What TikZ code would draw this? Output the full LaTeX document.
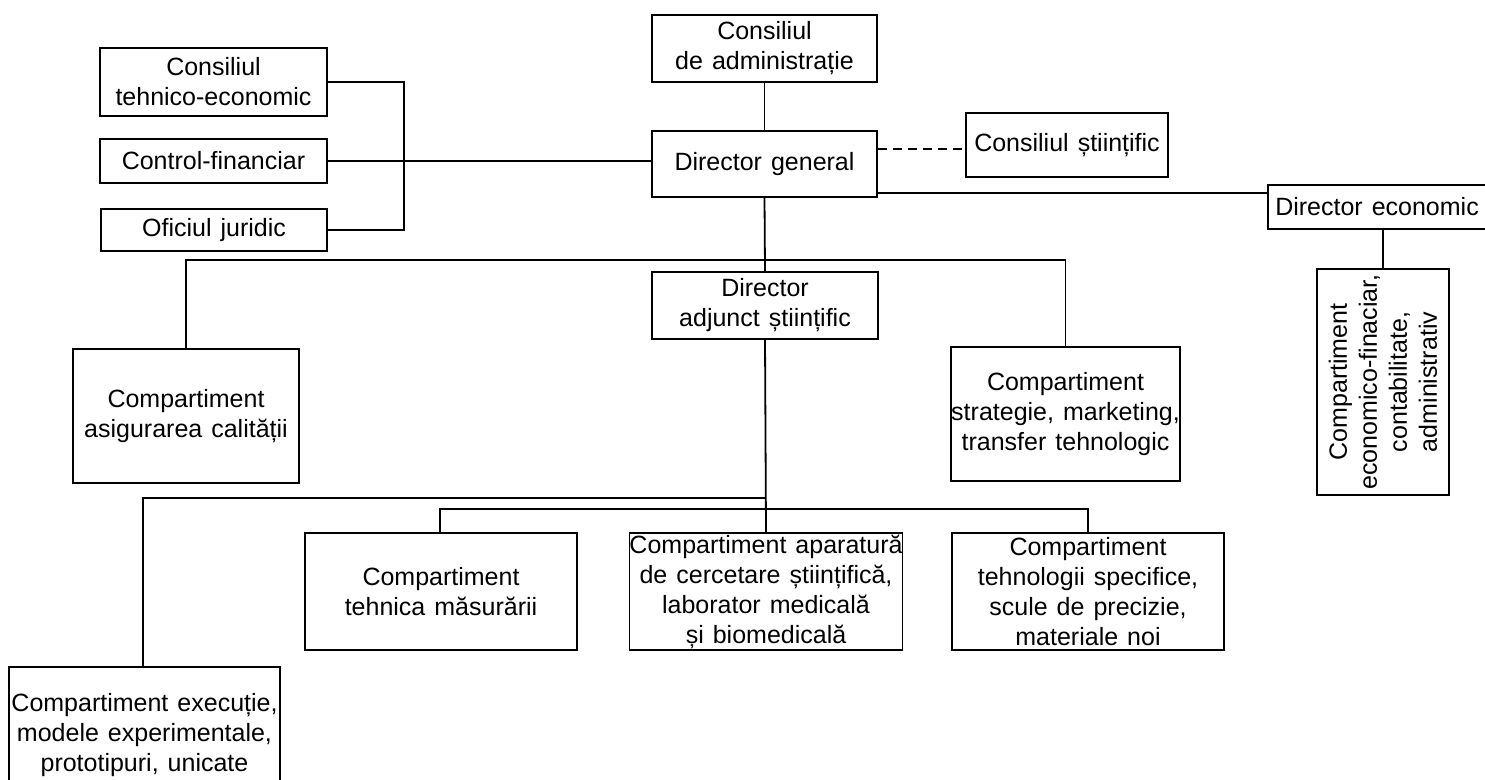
\documentclass[tikz,border=0pt]{standalone}
\usepackage{fontspec}
\setmainfont{Liberation Sans}[WordSpace=1.3]
\begin{document}
\begin{tikzpicture}[x=1pt,y=-1pt,
  box/.style={draw, line width=1.8pt, align=center, inner sep=0pt,
    font=\fontsize{25}{30}\selectfont},
  conn/.style={line width=1.8pt},
  dashconn/.style={line width=1.8pt, dash pattern=on 9pt off 6pt}]
\useasboundingbox (0,0) rectangle (1485,779);

% top level
\node[box, minimum width=225, minimum height=67] (CA) at (764.5,48.5) {Consiliul\\de administrație};
\node[box, minimum width=225, minimum height=66] (DG) at (764.5,164) {Director general};
\node[box, minimum width=227, minimum height=68] (CTE) at (213.5,82) {Consiliul\\tehnico-economic};
\node[box, minimum width=227, minimum height=44] (CF) at (213.5,161) {Control-financiar};
\node[box, minimum width=226, minimum height=42] (OJ) at (214,230) {Oficiul juridic};
\node[box, minimum width=202, minimum height=64] (CS) at (1067,145) {Consiliul științific};
\node[box, minimum width=218, minimum height=44] (DE) at (1377,207) {Director economic};
\node[box, rotate=90, minimum width=226, minimum height=132] (CEF) at (1383,382)
  {Compartiment\\economico-finaciar,\\contabilitate,\\administrativ};

% second level
\node[box, minimum width=226, minimum height=67] (DAS) at (765,305.5) {Director\\adjunct științific};
\node[box, minimum width=226, minimum height=134] (CAC) at (186,416) {Compartiment\\asigurarea calității};
\node[box, minimum width=225, minimum height=134] (CSM) at (1065.5,414) {Compartiment\\strategie, marketing,\\transfer tehnologic};

% third level
\node[box, minimum width=272, minimum height=117] (CTM) at (441,591.5) {Compartiment\\tehnica măsurării};
\node[box, minimum width=270, minimum height=117] (CAP) at (766,591.5) {Compartiment aparatură\\de cercetare științifică,\\laborator medicală\\și biomedicală};
\node[box, minimum width=272, minimum height=117] (CTS) at (1088,591.5) {Compartiment\\tehnologii specifice,\\scule de precizie,\\materiale noi};
\node[box, minimum width=271, minimum height=136] (CEX) at (144.5,735) {Compartiment execuție,\\modele experimentale,\\prototipuri, unicate};

% bus coordinates
\coordinate (bus1) at (765,260);
\coordinate (bus2) at (765,498);
\coordinate (bus3) at (765,509);
\coordinate (brk) at (404,82);

% connectors
\draw[conn] (CA.south) -- (DG.north);
\draw[conn] (CF.east) -- (CF.east -| DG.west);
\draw[conn] (CTE.east) -- (brk) |- (OJ.east);
\draw[dashconn] (DG.east |- 0,149) -- (CS.west |- 0,149);
\draw[conn] (DG.east |- 0,193) -- (DE.west |- 0,193);
\draw[conn] (CEF.east) -- (CEF.east |- DE.south);
\draw[conn] (DG.south) -- (DAS.north);
\draw[conn] (CAC.north) |- (bus1) -| (CSM.north);
\draw[conn] (DAS.south) -- (CAP.north);
\draw[conn] (CEX.north -| 143,0) |- (bus2);
\draw[conn] (CTM.north -| 440,0) |- (bus3) -| (CTS.north);
\end{tikzpicture}
\end{document}
